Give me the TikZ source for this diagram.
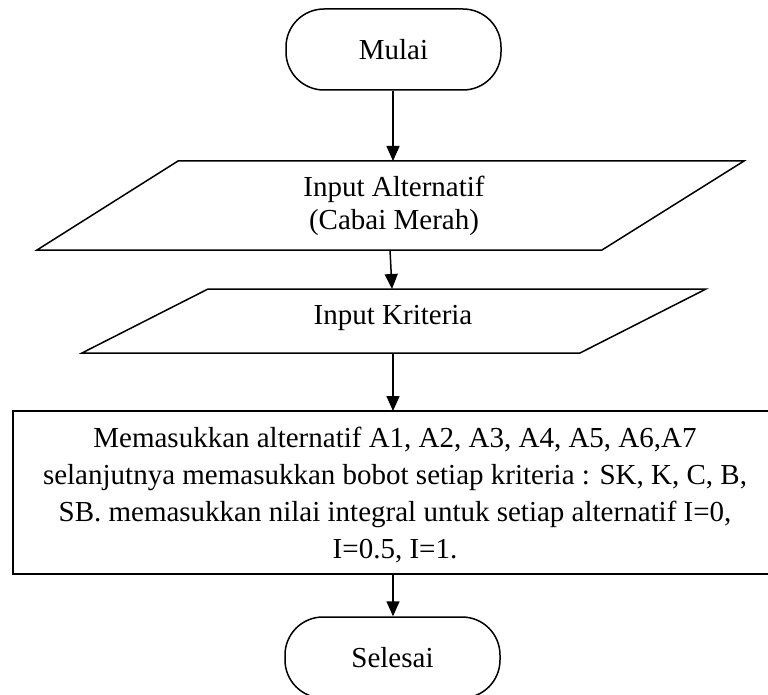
\documentclass[tikz,border=0pt]{standalone}
\usepackage{fontspec}
\setmainfont{Liberation Serif}
\usetikzlibrary{arrows.meta}
\begin{document}
\begin{tikzpicture}[x=1pt,y=-1pt,
  line width=1.5pt,
  txt/.style={font=\fontsize{29}{36.7}\selectfont, align=center, inner sep=0pt},
  term/.style={draw, rounded corners=38pt, minimum width=215pt, minimum height=81pt, font=\fontsize{29}{35}\selectfont},
  flow/.style={-{Triangle[length=15pt,width=13pt]}, line width=1.5pt}]
\useasboundingbox (0,0) rectangle (768,695);
\fill[white] (0,0) rectangle (768,695);

% Start
\node[term] (mulai) at (393.5,49.5) {Mulai};

% Input Alternatif parallelogram
\coordinate (p1tl) at (178,161);
\coordinate (p1tr) at (744,161);
\coordinate (p1br) at (602,250);
\coordinate (p1bl) at (37,250);
\draw (p1tl) -- (p1tr) -- (p1br) -- (p1bl) -- cycle;
\node[txt, font=\fontsize{29}{33}\selectfont] (p1) at (394,206) {Input Alternatif\\(Cabai Merah)};
\coordinate (p1top) at (393,161);
\coordinate (p1bot) at (390,250);

% Input Kriteria parallelogram
\coordinate (p2tl) at (208,289);
\coordinate (p2tr) at (706,289);
\coordinate (p2br) at (580,353);
\coordinate (p2bl) at (82,353);
\draw (p2tl) -- (p2tr) -- (p2br) -- (p2bl) -- cycle;
\node[txt] (p2) at (393,318) {Input Kriteria};
\coordinate (p2top) at (392,289);
\coordinate (p2bot) at (393,353);

% Process box
\node[draw, minimum width=765pt, minimum height=163pt, inner sep=0pt] (proc) at (395.5,492.5) {};
\node[txt] (proctext) at (395,495) {Memasukkan alternatif A1, A2, A3, A4, A5, A6,A7\\
selanjutnya memasukkan bobot setiap kriteria : SK, K, C, B,\\
SB. memasukkan nilai integral untuk setiap alternatif I=0,\\
I=0.5, I=1.};
\coordinate (proctop) at (393,411);
\coordinate (procbot) at (393,574);

% End
\node[term] (selesai) at (392.5,657.5) {Selesai};

% Connectors
\draw[flow] (mulai.south -| p1top) -- (p1top);
\draw[flow] (p1bot) -- (p2top);
\draw[flow] (p2bot) -- (proctop);
\draw[flow] (procbot) -- (selesai.north -| procbot);
\end{tikzpicture}
\end{document}
